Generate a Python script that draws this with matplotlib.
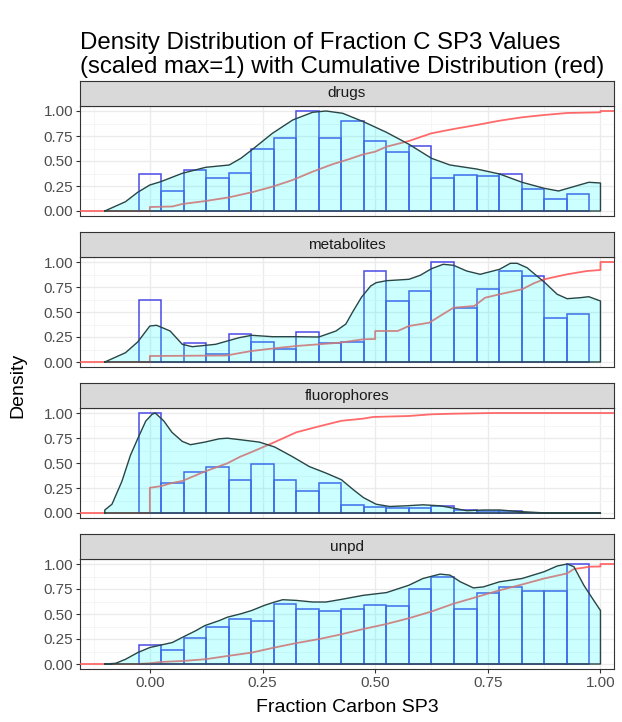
import numpy as np
import matplotlib
matplotlib.use("Agg")
import matplotlib.pyplot as plt

plt.rcParams['font.family'] = ['Liberation Sans', 'DejaVu Sans']

##### Data #####
panel_names = ["drugs", "metabolites", "fluorophores", "unpd"]
bin_centers = [0.00, 0.05, 0.10, 0.15, 0.20, 0.25, 0.30, 0.35, 0.40, 0.45,
               0.50, 0.55, 0.60, 0.65, 0.70, 0.75, 0.80, 0.85, 0.90, 0.95]
bin_width = 0.05

# histogram heights (scaled max=1)
drugs_hist = [0.37, 0.20, 0.41, 0.33, 0.377, 0.62, 0.733, 1.0, 0.733, 0.90,
              0.70, 0.59, 0.653, 0.333, 0.363, 0.35, 0.373, 0.22, 0.12, 0.167]
metab_hist = [0.623, 0.0, 0.187, 0.077, 0.283, 0.203, 0.127, 0.30, 0.187, 0.20,
              0.91, 0.61, 0.71, 1.0, 0.543, 0.727, 0.91, 0.86, 0.437, 0.477]
fluoro_hist = [1.0, 0.30, 0.415, 0.465, 0.333, 0.49, 0.333, 0.225, 0.30, 0.085,
               0.06, 0.05, 0.05, 0.07, 0.03, 0.025, 0.02, 0.005, 0.0, 0.0]
unpd_hist = [0.192, 0.145, 0.256, 0.374, 0.451, 0.434, 0.603, 0.552, 0.529, 0.552,
             0.593, 0.579, 0.754, 0.872, 0.552, 0.71, 0.771, 0.727, 0.727, 1.0]

# density curves (scaled max=1)
drugs_dens_x = [-0.1, -0.054, -0.027, 0.0, 0.024, 0.072, 0.124, 0.176, 0.202, 0.226,
                0.272, 0.317, 0.361, 0.391, 0.428, 0.474, 0.525, 0.575, 0.625, 0.666,
                0.725, 0.776, 0.826, 0.875, 0.907, 0.94, 0.974, 1.0]
drugs_dens_y = [0.0, 0.093, 0.187, 0.26, 0.293, 0.377, 0.437, 0.46, 0.527, 0.61,
                0.777, 0.91, 0.987, 1.0, 0.977, 0.893, 0.787, 0.667, 0.527, 0.46,
                0.42, 0.37, 0.287, 0.227, 0.2, 0.243, 0.287, 0.28]
metab_dens_x = [-0.1, -0.054, -0.027, 0.0, 0.015, 0.045, 0.072, 0.094, 0.146, 0.198,
                0.226, 0.272, 0.325, 0.375, 0.413, 0.435, 0.45, 0.47, 0.49, 0.502,
                0.525, 0.575, 0.6, 0.625, 0.651, 0.674, 0.703, 0.733, 0.776, 0.8,
                0.815, 0.837, 0.875, 0.904, 0.926, 0.955, 0.974, 1.0]
metab_dens_y = [0.0, 0.093, 0.2, 0.36, 0.367, 0.31, 0.177, 0.153, 0.177, 0.243,
                0.267, 0.253, 0.253, 0.25, 0.31, 0.38, 0.5, 0.65, 0.76, 0.793,
                0.813, 0.827, 0.867, 0.933, 0.977, 0.967, 0.91, 0.877, 0.927, 0.987,
                0.987, 0.943, 0.8, 0.677, 0.633, 0.643, 0.653, 0.61]
fluoro_dens_x = [-0.1, -0.084, -0.062, -0.043, -0.027, -0.009, 0.005, 0.012, 0.031, 0.049,
                 0.072, 0.09, 0.122, 0.154, 0.172, 0.202, 0.243, 0.277, 0.317, 0.354,
                 0.391, 0.425, 0.451, 0.474, 0.502, 0.532, 0.569, 0.606, 0.644, 0.673,
                 0.703, 0.74, 0.777, 0.814, 0.851, 0.88, 1.0]
fluoro_dens_y = [0.03, 0.088, 0.317, 0.578, 0.742, 0.92, 0.987, 1.0, 0.92, 0.807,
                 0.716, 0.683, 0.709, 0.742, 0.748, 0.732, 0.709, 0.66, 0.562, 0.464,
                 0.399, 0.333, 0.235, 0.154, 0.088, 0.065, 0.072, 0.082, 0.072, 0.049,
                 0.023, 0.03, 0.03, 0.016, 0.007, 0.0, 0.0]
unpd_dens_x = [-0.1, -0.076, -0.054, -0.027, 0.0, 0.024, 0.05, 0.072, 0.102, 0.122,
               0.154, 0.172, 0.202, 0.226, 0.254, 0.277, 0.295, 0.325, 0.361, 0.391,
               0.425, 0.474, 0.525, 0.575, 0.606, 0.644, 0.666, 0.689, 0.718, 0.74,
               0.776, 0.826, 0.875, 0.904, 0.926, 0.941, 0.963, 0.985, 1.0]
unpd_dens_y = [0.0, 0.007, 0.047, 0.114, 0.165, 0.189, 0.215, 0.266, 0.333, 0.384,
               0.434, 0.468, 0.502, 0.535, 0.586, 0.62, 0.643, 0.636, 0.62, 0.62,
               0.646, 0.687, 0.714, 0.788, 0.855, 0.899, 0.889, 0.822, 0.761, 0.771,
               0.822, 0.855, 0.923, 0.98, 1.0, 0.973, 0.788, 0.636, 0.535]

# cumulative distributions (repeated x = visible jump)
drugs_ecdf_x = [0.0, 0.0, 0.05, 0.072, 0.124, 0.176, 0.226, 0.272, 0.317, 0.361,
                0.405, 0.443, 0.474, 0.5, 0.525, 0.575, 0.625, 0.674, 0.725, 0.776,
                0.826, 0.875, 0.926, 1.0, 1.0]
drugs_ecdf_y = [0.0, 0.04, 0.045, 0.07, 0.10, 0.137, 0.187, 0.243, 0.31, 0.393,
                0.467, 0.52, 0.567, 0.593, 0.643, 0.70, 0.777, 0.82, 0.86, 0.903,
                0.937, 0.96, 0.98, 0.987, 1.0]
metab_ecdf_x = [0.0, 0.0, 0.17, 0.2, 0.226, 0.277, 0.325, 0.375, 0.421, 0.474,
                0.5, 0.5, 0.55, 0.575, 0.62, 0.65, 0.674, 0.72, 0.744, 0.776,
                0.826, 0.852, 0.875, 0.926, 0.97, 1.0, 1.0]
metab_ecdf_y = [0.0, 0.06, 0.065, 0.09, 0.11, 0.137, 0.16, 0.177, 0.193, 0.227,
                0.23, 0.31, 0.31, 0.36, 0.393, 0.477, 0.543, 0.56, 0.643, 0.677,
                0.727, 0.787, 0.827, 0.877, 0.91, 0.92, 1.0]
fluoro_ecdf_x = [0.0, 0.0, 0.024, 0.049, 0.072, 0.122, 0.172, 0.2, 0.226, 0.277,
                 0.325, 0.375, 0.425, 0.474, 0.495, 0.525, 0.575, 0.625, 0.674, 0.762,
                 1.0]
fluoro_ecdf_y = [0.0, 0.252, 0.268, 0.30, 0.32, 0.415, 0.497, 0.562, 0.61, 0.709,
                 0.807, 0.866, 0.922, 0.944, 0.96, 0.964, 0.97, 0.987, 0.993, 1.0,
                 1.0]
unpd_ecdf_x = [-0.03, 0.0, 0.024, 0.072, 0.122, 0.172, 0.226, 0.277, 0.325, 0.375,
               0.421, 0.474, 0.525, 0.575, 0.625, 0.674, 0.725, 0.776, 0.826, 0.875,
               0.926, 0.941, 0.963, 0.975, 1.0, 1.0]
unpd_ecdf_y = [0.0, 0.007, 0.02, 0.03, 0.047, 0.08, 0.114, 0.165, 0.209, 0.249,
               0.293, 0.35, 0.4, 0.458, 0.525, 0.603, 0.67, 0.737, 0.795, 0.855,
               0.906, 0.95, 0.963, 0.973, 0.975, 1.0]

hists = [drugs_hist, metab_hist, fluoro_hist, unpd_hist]
dens = [(drugs_dens_x, drugs_dens_y), (metab_dens_x, metab_dens_y),
        (fluoro_dens_x, fluoro_dens_y), (unpd_dens_x, unpd_dens_y)]
ecdfs = [(drugs_ecdf_x, drugs_ecdf_y), (metab_ecdf_x, metab_ecdf_y),
         (fluoro_ecdf_x, fluoro_ecdf_y), (unpd_ecdf_x, unpd_ecdf_y)]

##### Layout (pixels of a 622x722 figure) #####
W, H = 622, 722
fig = plt.figure(figsize=(W / 100, H / 100), dpi=100)
left, right = 80, 614
panel_h, strip_h, step = 110, 25, 151
first_top = 106
xlim = (-0.155, 1.03)
ylim = (-0.05, 1.05)

border = "#333333"
tick_col = "#4D4D4D"

for i, name in enumerate(panel_names):
    top = first_top + step * i
    ax = fig.add_axes([left / W, 1 - (top + panel_h) / H, (right - left) / W, panel_h / H])
    sax = fig.add_axes([left / W, 1 - top / H, (right - left) / W, strip_h / H])

    # strip
    sax.set_facecolor("#D9D9D9")
    sax.set_xticks([])
    sax.set_yticks([])
    for s in sax.spines.values():
        s.set_color(border)
        s.set_linewidth(0.8)
    sax.text(0.5, 0.5, name, ha="center", va="center", fontsize=11, color="#1A1A1A",
             transform=sax.transAxes)

    # grid (theme_bw)
    ax.set_xlim(*xlim)
    ax.set_ylim(*ylim)
    ax.set_xticks([0.0, 0.25, 0.5, 0.75, 1.0])
    ax.set_xticks([-0.125, 0.125, 0.375, 0.625, 0.875], minor=True)
    ax.set_yticks([0.0, 0.25, 0.5, 0.75, 1.0])
    ax.set_yticks([0.125, 0.375, 0.625, 0.875], minor=True)
    ax.grid(True, which="major", color="#EBEBEB", linewidth=1.0, zorder=0)
    ax.grid(True, which="minor", color="#F4F4F4", linewidth=0.6, zorder=0)
    ax.set_axisbelow(True)
    ax.set_yticklabels(["0.00", "0.25", "0.50", "0.75", "1.00"])
    ax.tick_params(axis="both", which="major", length=3, width=0.8, color=border,
                   labelsize=11, labelcolor=tick_col, pad=2)
    ax.tick_params(axis="both", which="minor", length=0)
    if i < len(panel_names) - 1:
        ax.tick_params(axis="x", which="major", labelbottom=False, length=0)
    else:
        ax.set_xticklabels(["0.00", "0.25", "0.50", "0.75", "1.00"])
    for s in ax.spines.values():
        s.set_color(border)
        s.set_linewidth(0.8)

    # histogram outlines
    ax.bar(bin_centers, hists[i], width=bin_width, fill=False, edgecolor="#4a4ae6",
           linewidth=1.1, zorder=2)

    # cumulative distribution, padded out to the panel edges
    ex, ey = ecdfs[i]
    ax.plot([xlim[0]] + ex + [xlim[1]], [0.0] + ey + [1.0], color="#ff5a5a",
            linewidth=1.3, alpha=0.9, zorder=3)

    # density area drawn on top with alpha
    dx, dy = dens[i]
    px = [dx[0]] + dx + [dx[-1], dx[0]]
    py = [0.0] + dy + [0.0, 0.0]
    ax.fill(px, py, facecolor="cyan", alpha=0.2, edgecolor="none", zorder=4)
    ax.plot(px, py, color="#2a4545", linewidth=1.0, zorder=5)

fig.text(left / W, 1 - 32 / H,
         "Density Distribution of Fraction C SP3 Values\n(scaled max=1) with Cumulative Distribution (red)",
         ha="left", va="top", fontsize=17.3, color="black", linespacing=1.1)
fig.text(18 / W, 1 - 385 / H, "Density", rotation=90, ha="center", va="center", fontsize=14)
fig.text((left + right) / 2 / W, 1 - 707 / H, "Fraction Carbon SP3", ha="center",
         va="center", fontsize=14)

fig.savefig("out.png", dpi=100)
